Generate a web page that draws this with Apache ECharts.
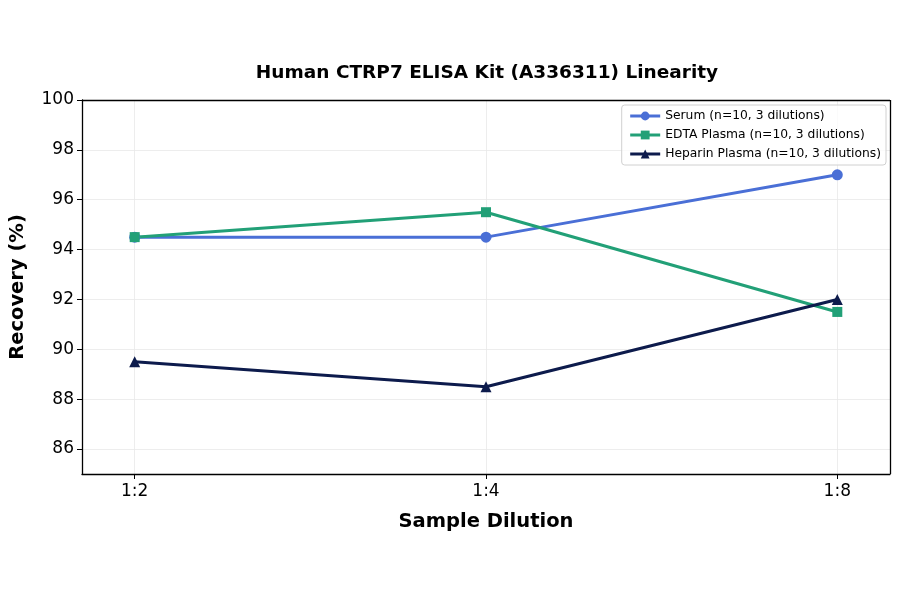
<!DOCTYPE html>
<html><head><meta charset="utf-8">
<script src="https://cdn.jsdelivr.net/npm/echarts@6/dist/echarts.min.js"></script>
<style>html,body{margin:0;padding:0;background:#fff}#c{width:900px;height:594px}</style>
</head><body><div id="c"></div>
<script>
const categories = ['1:2', '1:4', '1:8'];
const serum = [94.5, 94.5, 97.0];
const edta = [94.5, 95.5, 91.5];
const heparin = [89.5, 88.5, 92.0];
const yTicks = [86, 88, 90, 92, 94, 96, 98, 100];
const seriesNames = ['Serum (n=10, 3 dilutions)', 'EDTA Plasma (n=10, 3 dilutions)', 'Heparin Plasma (n=10, 3 dilutions)'];

const font = 'DejaVu Sans';
const chart = echarts.init(document.getElementById('c'));
const pts = arr => arr.map((v, i) => [i, v]);
const idx = categories.map((c, i) => i);
function mk(name, data, color, symbol, size) {
  return {
    name, type: 'line', data: pts(data), symbol, symbolSize: size,
    lineStyle: { color, width: 3 }, itemStyle: { color },
    emphasis: { disabled: true }, z: 3
  };
}
chart.setOption({
  animation: false,
  title: {
    text: 'Human CTRP7 ELISA Kit (A336311) Linearity', left: 482, top: 59, textAlign: 'center',
    textStyle: { fontFamily: font, fontSize: 18.5, fontWeight: 'bold', color: '#000' }
  },
  grid: { left: 82, right: 10, top: 100, bottom: 120, containLabel: false, outerBoundsMode: 'none' },
  legend: {
    orient: 'vertical', right: 14, top: 105, itemGap: 7, itemWidth: 30, itemHeight: 11,
    borderColor: '#d0d0d0', borderWidth: 1, borderRadius: 3, padding: [5, 5, 5, 7],
    backgroundColor: 'rgba(255,255,255,0.8)',
    lineStyle: { width: 3 },
    textStyle: { fontFamily: font, fontSize: 12.3, color: '#000' },
    data: seriesNames
  },
  xAxis: {
    type: 'value', min: -0.15, max: 2.15,
    name: 'Sample Dilution', nameLocation: 'middle', nameGap: 38,
    nameTextStyle: { fontFamily: font, fontSize: 19.5, fontWeight: 'bold', color: '#000' },
    axisLine: { show: true, onZero: false, lineStyle: { color: '#000', width: 1.3 } },
    axisTick: { show: true, customValues: idx, length: 5, lineStyle: { color: '#000' } },
    axisLabel: { customValues: idx, formatter: v => categories[Math.round(v)], fontFamily: font, fontSize: 17, color: '#000', margin: 9 },
    splitLine: { show: true, lineStyle: { color: '#e8e8e8', width: 0.8 } }
  },
  yAxis: {
    type: 'value', min: 85, max: 100,
    name: 'Recovery (%)', nameLocation: 'middle', nameGap: 54,
    nameTextStyle: { fontFamily: font, fontSize: 19.5, fontWeight: 'bold', color: '#000' },
    axisLine: { show: true, onZero: false, lineStyle: { color: '#000', width: 1.3 } },
    axisTick: { show: true, customValues: yTicks, length: 5, lineStyle: { color: '#000' } },
    axisLabel: { customValues: yTicks, fontFamily: font, fontSize: 17, color: '#000', margin: 8 },
    splitLine: { show: true, lineStyle: { color: '#e8e8e8', width: 0.8 } }
  },
  series: [
    mk(seriesNames[0], serum, '#4a6fd6', 'circle', 11),
    mk(seriesNames[1], edta, '#22a077', 'rect', 10),
    mk(seriesNames[2], heparin, '#0d1b4c', 'triangle', 11),
    { type: 'line', data: [], markLine: { silent: true, symbol: 'none', label: { show: false },
      lineStyle: { color: '#000', width: 1.3, type: 'solid' },
      data: [[{ coord: [-0.15, 100] }, { coord: [2.15, 100] }], [{ coord: [2.15, 85] }, { coord: [2.15, 100] }]] } }
  ]
});
</script></body></html>
